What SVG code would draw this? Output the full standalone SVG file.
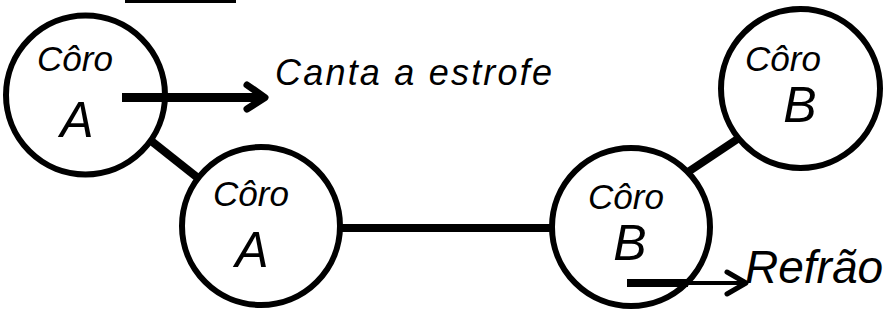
<svg xmlns="http://www.w3.org/2000/svg" width="887" height="323" viewBox="0 0 887 323">
<style>
.ring{fill:#fff;stroke:#000;stroke-width:6}
.t{font-family:"Liberation Sans",Arial,sans-serif;font-style:italic;fill:#000;text-anchor:middle}
.coro{font-size:35px}
.big{font-size:50px}
.con{stroke:#000;stroke-width:8;fill:none;stroke-linecap:butt}
.arr{stroke:#000;fill:none;stroke-linecap:round;stroke-linejoin:round}
</style>
<rect x="125" y="0" width="111" height="3" fill="#000"/>
<g id="connectors">
<line class="con" x1="145" y1="136" x2="203" y2="182"/>
<line class="con" x1="338" y1="228" x2="556" y2="228"/>
<line class="con" x1="688" y1="172" x2="742" y2="136"/>
</g>
<g id="coroA1">
<circle class="ring" cx="85.5" cy="95" r="79.5"/>
<text class="t coro" x="75" y="71">Côro</text>
<text class="t big" x="77" y="137" font-size="56">A</text>
</g>
<g id="coroA2">
<circle class="ring" cx="261" cy="226" r="79"/>
<text class="t coro" x="251" y="206">Côro</text>
<text class="t big" x="252" y="267" font-size="54">A</text>
</g>
<g id="coroB1">
<circle class="ring" cx="631" cy="227" r="79"/>
<text class="t coro" x="626" y="209">Côro</text>
<text class="t big" x="630" y="260">B</text>
</g>
<g id="coroB2">
<circle class="ring" cx="800.5" cy="88.5" r="79.5"/>
<text class="t coro" x="783" y="71">Côro</text>
<text class="t big" x="800" y="122">B</text>
</g>
<g id="arrows">
<line class="arr" x1="122" y1="97.5" x2="262" y2="97.5" stroke-width="9" style="stroke-linecap:butt"/>
<polyline class="arr" points="247,85 265,97.5 247,109" stroke-width="7"/>
<line class="arr" x1="627" y1="283" x2="688" y2="283" stroke-width="8" style="stroke-linecap:butt"/>
<line class="arr" x1="688" y1="283" x2="744" y2="283" stroke-width="4"/>
<polyline class="arr" points="727,272 746,283 727,294" stroke-width="5"/>
</g>
<g id="labels">
<text class="t" x="275" y="85" font-size="36" textLength="277" lengthAdjust="spacing" style="text-anchor:start">Canta a estrofe</text>
<text class="t" x="745" y="283" font-size="46" style="text-anchor:start">Refrão</text>
</g>
</svg>
